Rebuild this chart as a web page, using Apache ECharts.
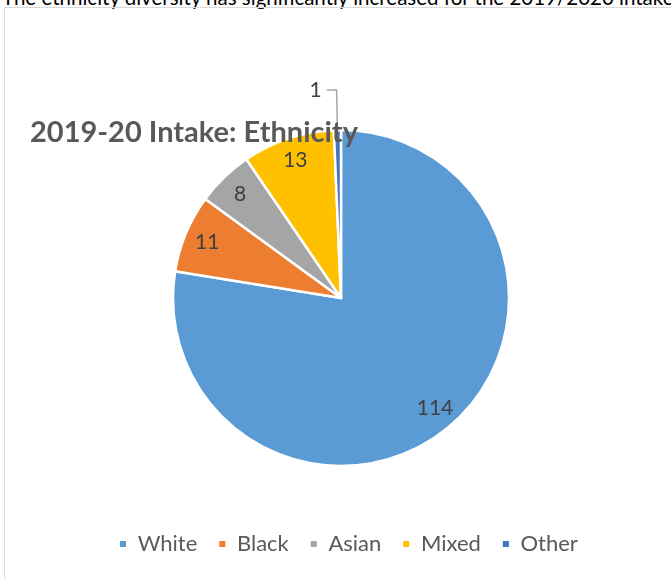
<!DOCTYPE html>
<html>
<head>
<meta charset="utf-8">
<script src="https://cdn.jsdelivr.net/npm/echarts@6/dist/echarts.min.js"></script>
<style>
  html, body { margin: 0; padding: 0; background: #fff; overflow: hidden; }
  #note { position: absolute; left: 2px; top: -15px; white-space: nowrap;
          font-family: Lato, sans-serif; font-size: 20.5px; color: #000; }
  #frame { position: absolute; left: 4px; top: 7px; width: 700px; height: 600px;
           border: 1px solid #d9d9d9; box-sizing: border-box; }
  #chart { position: absolute; left: 0; top: 0; width: 671px; height: 579px; }
</style>
</head>
<body>
<div id="note">The ethnicity diversity has significantly increased for the 2019/2020 intake</div>
<div id="frame"></div>
<div id="chart"></div>
<script>
const categories = ['White', 'Black', 'Asian', 'Mixed', 'Other']
const counts = [114, 11, 8, 13, 1]
const colors = ['#5B9BD5', '#ED7D31', '#A5A5A5', '#FFC000', '#4472C4']

const font = 'Lato, sans-serif'
var myChart = echarts.init(document.getElementById('chart'))

var slices = categories.map((name, i) => ({
    name: name,
    value: counts[i],
    itemStyle: { color: colors[i] }
}))

// the tiny "Other" slice gets an outside label with a leader line
var mainData = slices.map(d => {
    if (d.name !== 'Other') return d
    return Object.assign({}, d, {
        label: { show: true, position: 'outside', formatter: '{c}', fontSize: 21, color: '#404040', fontFamily: font },
        labelLine: { show: true, length: 40, length2: 10, lineStyle: { color: '#a6a6a6', width: 1.5 } }
    })
})

// transparent ring used only to place the inside labels further out
var labelData = slices.map(d => ({
    name: d.name,
    value: d.value,
    itemStyle: { color: 'transparent' },
    label: { show: d.name !== 'Other' }
}))

var option = {
    animation: false,
    title: {
        text: '2019-20 Intake: Ethnicity',
        left: 30,
        top: 118,
        padding: 0,
        textStyle: { fontFamily: font, fontSize: 29, fontWeight: 'bold', color: '#595959' }
    },
    legend: {
        data: categories,
        bottom: 19,
        left: 113,
        icon: 'rect',
        itemWidth: 8,
        itemHeight: 8,
        itemGap: 20,
        formatter: name => ' ' + name,
        textStyle: { fontFamily: font, fontSize: 22, color: '#595959' }
    },
    series: [{
        type: 'pie',
        center: [341, 298],
        radius: 168,
        startAngle: 90,
        clockwise: true,
        label: { show: false },
        labelLine: { show: false },
        itemStyle: { borderColor: '#fff', borderWidth: 2.5 },
        emphasis: { disabled: true },
        data: mainData
    }, {
        type: 'pie',
        center: [341, 298],
        radius: [116, 168],
        startAngle: 90,
        clockwise: true,
        silent: true,
        legendHoverLink: false,
        label: { position: 'inside', formatter: '{c}', fontFamily: font, fontSize: 21, color: '#404040' },
        labelLine: { show: false },
        emphasis: { disabled: true },
        data: labelData
    }]
}

myChart.setOption(option)
</script>
</body>
</html>
